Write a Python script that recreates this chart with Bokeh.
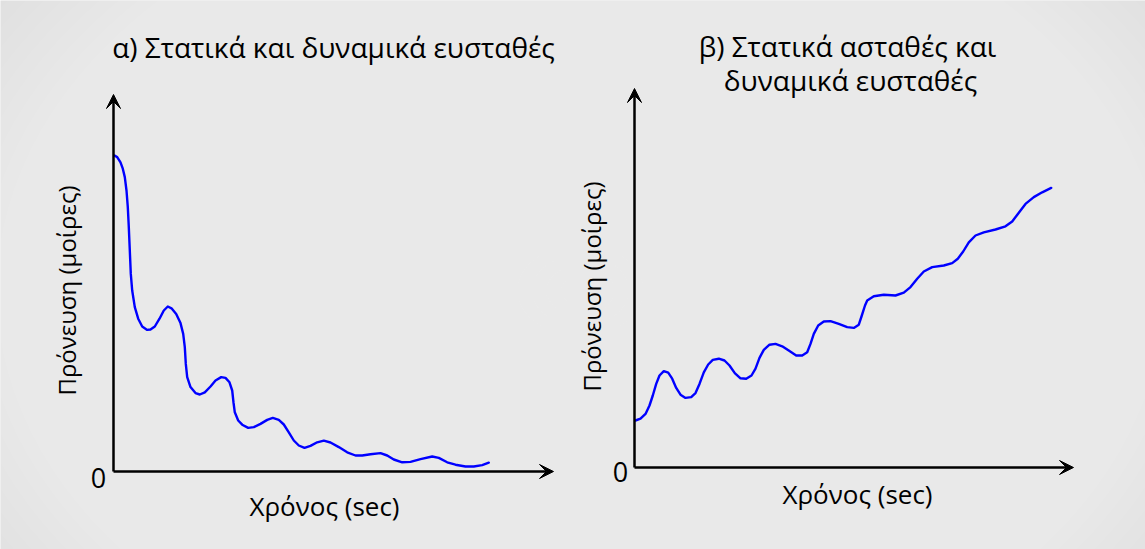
import numpy as np
from bokeh.plotting import figure
from bokeh.models import Range1d, Arrow, VeeHead, Label, ColumnDataSource
from bokeh.embed import file_html
from bokeh.resources import INLINE

# ---------------- data ----------------
# panel α : statically and dynamically stable (time in s, angle in deg)
time_a = [0.1, 0.37, 0.7, 0.93, 1.13, 1.3, 1.43, 1.53, 1.63, 1.73, 1.87, 2.13, 2.47,
          2.87, 3.37, 3.7, 4.13, 4.6, 5.03, 5.43, 5.8, 6.27, 6.7, 6.97, 7.13, 7.23,
          7.37, 7.7, 8.2, 8.63, 9.13, 9.7, 10.2, 10.77, 11.2, 11.6, 11.87, 12.0,
          12.13, 12.47, 12.87, 13.47, 14.03, 14.7, 15.37, 15.93, 16.53, 17.03,
          17.53, 18.03, 18.53, 19.1, 19.7, 20.37, 21.03, 21.7, 22.53, 23.37, 24.2,
          24.87, 25.7, 26.7, 27.37, 28.03, 28.87, 29.7, 30.7, 31.87, 32.53, 33.37,
          34.2, 35.2, 36.03, 36.87, 37.53]
angle_a = [79.0, 78.6, 77.3, 75.7, 73.6, 70.25, 66.1, 61.1, 55.25, 49.4, 45.25, 41.1,
           38.2, 36.25, 35.4, 35.5, 36.25, 38.2, 40.25, 41.25, 40.8, 39.4, 37.1, 34.4,
           31.1, 26.9, 23.6, 21.1, 19.6, 19.25, 19.8, 21.25, 22.75, 23.6, 23.4, 22.3,
           20.25, 17.25, 14.8, 12.75, 11.7, 10.9, 11.1, 11.9, 12.9, 13.4, 12.9, 11.75,
           9.8, 7.75, 6.5, 5.9, 6.4, 7.3, 7.7, 7.25, 6.1, 4.8, 4.0, 4.0, 4.3, 4.6, 4.0,
           3.0, 2.3, 2.4, 3.1, 3.75, 3.4, 2.3, 1.7, 1.25, 1.25, 1.6, 2.2]

# panel β : statically unstable, dynamically stable
time_b = [0.1, 0.6, 1.1, 1.5, 1.83, 2.17, 2.5, 2.93, 3.37, 3.77, 4.17, 4.6, 5.1, 5.67,
          6.1, 6.5, 6.93, 7.37, 7.83, 8.43, 9.0, 9.5, 10.03, 10.6, 11.17, 11.7, 12.1,
          12.5, 12.93, 13.5, 14.1, 14.77, 15.5, 16.17, 16.77, 17.27, 17.6, 17.93,
          18.37, 18.93, 19.6, 20.43, 21.27, 21.93, 22.43, 22.7, 23.05, 23.27, 23.93,
          24.93, 26.1, 26.93, 27.6, 28.27, 28.93, 29.77, 30.93, 31.77, 32.33, 32.87,
          33.43, 34.1, 34.93, 36.1, 37.1, 37.77, 38.43, 39.1, 39.93, 40.77, 41.67]
angle_b = [11.75, 12.2, 13.4, 15.5, 18.0, 20.9, 23.0, 24.1, 23.7, 22.2, 19.9, 18.2,
           17.4, 17.6, 18.6, 20.9, 23.8, 25.75, 26.9, 27.2, 26.75, 25.5, 23.6, 22.3,
           22.2, 23.0, 24.7, 27.4, 29.4, 30.7, 30.9, 30.3, 29.1, 28.0, 28.0, 28.8,
           30.9, 33.4, 35.5, 36.5, 36.6, 35.9, 35.1, 34.9, 35.7, 37.75, 40.5, 41.75,
           42.8, 43.2, 43.0, 43.7, 45.1, 47.2, 49.0, 50.1, 50.5, 51.1, 52.2, 54.0,
           56.3, 58.0, 58.8, 59.5, 60.3, 61.5, 63.7, 65.9, 67.6, 68.8, 69.9]

# axis extents of each panel (time, angle)
axis_a = [44.0, 94.25]
axis_b = [43.9, 94.75]

titles = ["α) Στατικά και δυναμικά ευσταθές", "β) Στατικά ασταθές και", "δυναμικά ευσταθές"]
x_label = "Χρόνος (sec)"
y_label = "Πρόνευση (μοίρες)"
zero_label = "0"

# ---------------- figure ----------------
W, H = 1145, 549
BG = "#e0e0e0"
FONT = "Open Sans"

p = figure(width=W, height=H, x_range=Range1d(0, W), y_range=Range1d(H, 0),
           x_axis_type=None, y_axis_type=None, toolbar_location=None,
           output_backend="svg", min_border=0, outline_line_color=None,
           background_fill_color=BG, border_fill_color=BG)

p.extra_x_ranges = {"tA": Range1d(-11.3, (W - 113) / 10),
                    "tB": Range1d(-63.4, (W - 634) / 10)}
p.extra_y_ranges = {"aA": Range1d((471 - H) / 4, 471 / 4),
                    "aB": Range1d((467 - H) / 4, 467 / 4)}

# soft radial background
sizes = np.linspace(1400, 40, 48)
p.ellipse(x=580, y=290, width=sizes, height=sizes * 0.72,
          fill_color="white", fill_alpha=0.042, line_color=None)

# curves
src_a = ColumnDataSource(dict(t=time_a, a=angle_a))
src_b = ColumnDataSource(dict(t=time_b, a=angle_b))
p.line("t", "a", source=src_a, x_range_name="tA", y_range_name="aA",
       line_color="#0000ff", line_width=2.4, line_join="round", line_cap="round")
p.line("t", "a", source=src_b, x_range_name="tB", y_range_name="aB",
       line_color="#0000ff", line_width=2.4, line_join="round", line_cap="round")

# arrow axes
for ext, xr, yr in [(axis_a, "tA", "aA"), (axis_b, "tB", "aB")]:
    p.add_layout(Arrow(end=VeeHead(size=14, fill_color="black", line_color="black", line_width=1),
                       x_start=0, y_start=0, x_end=ext[0], y_end=0,
                       line_width=2.5, line_color="black",
                       x_range_name=xr, y_range_name=yr))
    p.add_layout(Arrow(end=VeeHead(size=14, fill_color="black", line_color="black", line_width=1),
                       x_start=0, y_start=0, x_end=0, y_end=ext[1],
                       line_width=2.5, line_color="black",
                       x_range_name=xr, y_range_name=yr))

def lab(x, y, text, size=22, angle=0.0):
    p.add_layout(Label(x=x, y=y, text=text, text_font=FONT, text_font_size=f"{size}px",
                       text_color="black", text_align="center", text_baseline="middle",
                       angle=angle))

# titles
lab(333, 46, titles[0], 28)
lab(847, 45, titles[1], 28)
lab(850, 79, titles[2], 28)

# axis labels
lab(324, 505, x_label, 26)
lab(857, 493, x_label, 26)
lab(66, 290, y_label, 24, angle=np.pi / 2)
lab(591, 286, y_label, 24, angle=np.pi / 2)

# zero labels
lab(98, 477, zero_label, 27)
lab(620, 471, zero_label, 27)

open("out.html", "w").write(file_html(p, INLINE))
